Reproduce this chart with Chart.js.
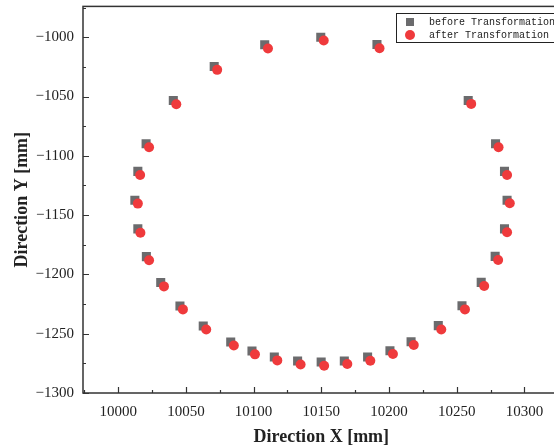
<!DOCTYPE html>
<html>
<head>
<meta charset="utf-8">
<script src="https://cdn.jsdelivr.net/npm/chart.js@4.4.0/dist/chart.umd.min.js"></script>
<style>
    html, body { margin: 0; padding: 0; overflow: hidden; background: #fff; }
    #wrap { width: 566px; height: 446px; }
</style>
</head>
<body>
<div id="wrap"><canvas id="ringChart" width="566" height="446"></canvas></div>
<script>
const seriesNames = ['before Transformation', 'after Transformation'];

const beforeX = [10149.6, 10108.2, 10070.9, 10040.7, 10020.6, 10014.5, 10012.3, 10014.5, 10020.8, 10031.4,
    10045.6, 10062.8, 10083.1, 10098.8, 10115.3, 10132.5, 10149.9, 10167.0, 10184.2, 10200.7,
    10216.3, 10236.4, 10253.9, 10268.1, 10278.4, 10285.3, 10287.2, 10285.3, 10278.7, 10258.5, 10191.1];
const beforeY = [-1000.0, -1006.4, -1024.7, -1053.4, -1089.9, -1113.1, -1137.5, -1161.6, -1185.0, -1206.9,
    -1226.6, -1243.5, -1257.0, -1264.6, -1269.6, -1273.0, -1273.9, -1273.0, -1269.6, -1264.3,
    -1256.7, -1243.2, -1226.4, -1206.7, -1184.8, -1161.6, -1137.5, -1113.1, -1089.9, -1053.4, -1006.2];

const afterX = [10151.8, 10110.6, 10073.1, 10042.9, 10022.8, 10016.2, 10014.5, 10016.4, 10022.8, 10033.8,
    10047.8, 10065.0, 10085.4, 10101.0, 10117.5, 10134.7, 10152.1, 10169.2, 10186.2, 10202.9,
    10218.3, 10238.6, 10256.1, 10270.3, 10280.6, 10287.2, 10289.2, 10287.2, 10280.9, 10260.7, 10193.0];
const afterY = [-1002.8, -1009.5, -1027.5, -1056.5, -1092.8, -1116.1, -1140.3, -1164.8, -1188.1, -1210.1,
    -1229.5, -1246.4, -1259.9, -1267.4, -1272.5, -1275.9, -1277.0, -1275.5, -1272.8, -1267.1,
    -1259.5, -1246.4, -1229.5, -1209.7, -1187.8, -1164.5, -1140.0, -1116.1, -1092.8, -1056.2, -1009.3];

const xTicks = [10000, 10050, 10100, 10150, 10200, 10250, 10300];
const yTicks = [-1300, -1250, -1200, -1150, -1100, -1050, -1000];

const grayColor = '#6b6b6d';
const redColor = '#ef3a3c';
const axisColor = '#333333';

function toPoints(xs, ys) {
    return xs.map((x, i) => ({ x: x, y: ys[i] }));
}

function minorValues(ticks, lo, hi) {
    const step = ticks[1] - ticks[0];
    const out = [];
    for (let v = ticks[0] - step / 2; v <= hi; v += step) {
        if (v >= lo) out.push(v);
    }
    return out;
}

const framePlugin = {
    id: 'frame',
    afterDraw(chart) {
        const ctx = chart.ctx;
        const a = chart.chartArea;
        const xs = chart.scales.x;
        const ys = chart.scales.y;
        ctx.save();
        ctx.strokeStyle = axisColor;
        ctx.lineWidth = 1.5;
        ctx.strokeRect(a.left, a.top, a.right - a.left, a.bottom - a.top);

        // inward ticks
        ctx.lineWidth = 1.2;
        ctx.beginPath();
        xTicks.forEach(v => {
            const px = Math.round(xs.getPixelForValue(v)) + 0.5;
            ctx.moveTo(px, a.bottom); ctx.lineTo(px, a.bottom - 6);
        });
        minorValues(xTicks, xs.min, xs.max).forEach(v => {
            const px = Math.round(xs.getPixelForValue(v)) + 0.5;
            ctx.moveTo(px, a.bottom); ctx.lineTo(px, a.bottom - 3);
        });
        yTicks.forEach(v => {
            const py = Math.round(ys.getPixelForValue(v)) + 0.5;
            ctx.moveTo(a.left, py); ctx.lineTo(a.left + 6, py);
        });
        minorValues(yTicks, ys.min, ys.max).forEach(v => {
            const py = Math.round(ys.getPixelForValue(v)) + 0.5;
            ctx.moveTo(a.left, py); ctx.lineTo(a.left + 3, py);
        });
        ctx.stroke();

        // legend box
        ctx.fillStyle = '#ffffff';
        ctx.fillRect(396, 13, 200, 29);
        ctx.strokeStyle = '#222';
        ctx.lineWidth = 1;
        ctx.strokeRect(396.5, 13.5, 200, 29);
        ctx.fillStyle = grayColor;
        ctx.fillRect(406, 18, 8, 8);
        ctx.fillStyle = redColor;
        ctx.beginPath();
        ctx.arc(410, 35, 5, 0, Math.PI * 2);
        ctx.fill();
        ctx.fillStyle = '#222';
        ctx.font = '10px "Liberation Mono", monospace';
        ctx.textBaseline = 'middle';
        ctx.fillText(seriesNames[0], 429, 22);
        ctx.fillText(seriesNames[1], 429, 35);
        ctx.restore();
    }
};

const minusFmt = v => String(v).replace('-', '\u2212');

new Chart(document.getElementById('ringChart').getContext('2d'), {
    type: 'scatter',
    data: {
        datasets: [{
            label: seriesNames[0],
            data: toPoints(beforeX, beforeY),
            pointStyle: 'rect',
            pointRadius: 6.4,
            pointBorderWidth: 0,
            backgroundColor: grayColor,
            order: 1
        }, {
            label: seriesNames[1],
            data: toPoints(afterX, afterY),
            pointStyle: 'circle',
            pointRadius: 5,
            pointBorderWidth: 0,
            backgroundColor: redColor,
            order: 0
        }]
    },
    options: {
        responsive: false,
        animation: false,
        layout: { padding: { top: 6, right: 4, left: 0, bottom: 0 } },
        plugins: {
            legend: { display: false },
            tooltip: { enabled: false }
        },
        scales: {
            x: {
                type: 'linear',
                min: 9974,
                max: 10326,
                afterBuildTicks: s => { s.ticks = xTicks.map(v => ({ value: v })); },
                afterFit: s => { s.height = 53; s.paddingLeft = 0; s.paddingRight = 0; },
                grid: { display: false, drawTicks: false },
                border: { display: false },
                ticks: {
                    padding: 10,
                    color: '#222',
                    font: { family: '"Liberation Serif", serif', size: 15 },
                    callback: minusFmt
                },
                title: {
                    display: true,
                    text: 'Direction X [mm]',
                    color: '#222',
                    padding: { top: 0, bottom: 0 },
                    font: { family: '"Liberation Serif", serif', size: 18, weight: 'bold', lineHeight: 1 }
                }
            },
            y: {
                type: 'linear',
                min: -1300,
                max: -974,
                afterBuildTicks: s => { s.ticks = yTicks.map(v => ({ value: v })); },
                afterFit: s => { s.width = 83; s.paddingTop = 0; s.paddingBottom = 0; },
                grid: { display: false, drawTicks: false },
                border: { display: false },
                ticks: {
                    padding: 9,
                    color: '#222',
                    font: { family: '"Liberation Serif", serif', size: 15 },
                    callback: minusFmt
                },
                title: {
                    display: true,
                    text: 'Direction Y [mm]',
                    color: '#222',
                    padding: { top: 13, bottom: 0 },
                    font: { family: '"Liberation Serif", serif', size: 18, weight: 'bold', lineHeight: 1 }
                }
            }
        }
    },
    plugins: [framePlugin]
});
</script>
</body>
</html>
